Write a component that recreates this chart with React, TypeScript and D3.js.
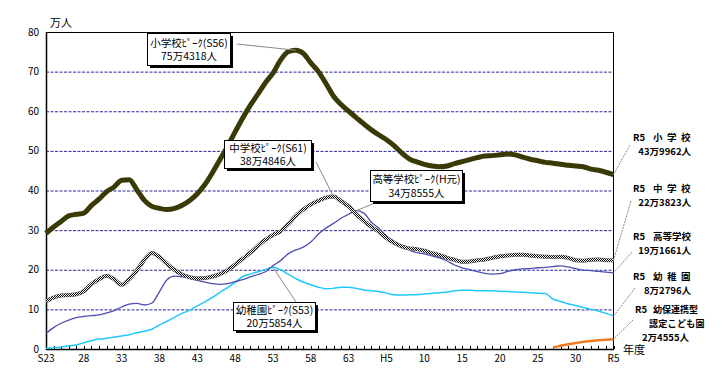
import React from 'react'
import * as d3 from 'd3'

const width = 724
const height = 386
const margin = { top: 32, right: 110, bottom: 37, left: 46 }

// 年度 (S23 = 1948 ... R5 = 2023)
const years = d3.range(1948, 2024)
const tickYears = d3.range(1948, 2024, 5)
const tickLabels = ['S23', '28', '33', '38', '43', '48', '53', '58', '63', 'H5', '10', '15', '20', '25', '30', 'R5']
const yTicks = [0, 10, 20, 30, 40, 50, 60, 70, 80]

// 単位: 万人
const elementary = [
  29.2, 30.8, 32.2, 33.6, 34.0, 34.3, 36.2, 37.8, 39.7, 40.9,
  42.6, 42.7, 40.2, 37.5, 36.0, 35.5, 35.2, 35.5, 36.3, 37.5,
  39.2, 41.5, 44.5, 47.8, 51.2, 54.8, 58.3, 61.5, 64.3, 67.2,
  69.6, 72.9, 75.0, 75.4, 74.6, 72.2, 70.0, 67.0, 63.8, 61.7,
  60.0, 58.4, 56.8, 55.3, 54.0, 52.8, 51.3, 49.5, 48.0, 47.2,
  46.6, 46.2, 46.0, 46.2, 46.8, 47.3, 47.8, 48.3, 48.7, 48.8,
  49.0, 49.2, 49.0, 48.4, 47.9, 47.5, 47.1, 46.9, 46.6, 46.4,
  46.2, 46.0, 45.4, 45.1, 44.6, 44.0
]
const juniorHigh = [
  12.0, 13.0, 13.5, 13.6, 13.8, 14.6, 16.4, 17.6, 18.5, 17.6,
  16.2, 17.6, 19.8, 22.5, 24.2, 23.2, 21.5, 19.9, 18.8, 18.1,
  17.8, 17.9, 18.3, 18.9, 19.9, 21.3, 22.8, 24.3, 26.0, 27.6,
  28.8, 29.7, 31.5, 33.6, 35.2, 36.5, 37.4, 38.2, 38.5, 37.3,
  36.0, 34.0, 32.3, 30.8, 29.6, 28.0, 26.8, 25.9, 25.4, 25.2,
  24.8, 24.2, 23.7, 23.0, 22.5, 22.0, 22.1, 22.4, 22.6, 23.0,
  23.4, 23.6, 23.8, 23.8, 23.6, 23.4, 23.3, 23.2, 23.3, 23.0,
  22.4, 22.3, 22.5, 22.6, 22.4, 22.4
]
const highSchool = [
  3.9, 5.4, 6.5, 7.3, 7.9, 8.2, 8.4, 8.6, 9.1, 9.7,
  10.6, 11.3, 11.5, 11.1, 11.6, 14.5, 17.5, 18.4, 18.2, 17.8,
  17.3, 16.9, 16.5, 16.3, 16.5, 17.0, 17.5, 18.2, 18.8, 19.5,
  21.0, 22.3, 24.0, 25.0, 25.7, 27.0, 29.0, 30.5, 31.7, 33.0,
  34.0, 34.9, 34.3, 32.0, 30.5, 28.5, 27.2, 26.0, 25.0, 24.3,
  24.0, 23.5, 23.0, 22.2, 21.2, 20.5, 20.0, 19.5, 19.1, 18.9,
  19.0, 19.6, 20.0, 20.2, 20.3, 20.5, 20.6, 20.8, 21.0, 20.7,
  20.3, 19.9, 19.8, 19.6, 19.4, 19.2
]
const kindergarten = [
  0.2, 0.3, 0.5, 0.8, 1.0, 1.6, 2.1, 2.5, 2.7, 3.0,
  3.3, 3.6, 4.1, 4.5, 5.0, 6.1, 7.0, 8.0, 9.0, 9.8,
  10.9, 11.9, 13.0, 14.3, 15.5, 16.8, 18.3, 18.9, 19.5, 20.1,
  20.6, 20.0, 18.9, 17.8, 16.9, 16.2, 15.6, 15.2, 15.3, 15.6,
  15.6, 15.3, 14.9, 14.7, 14.5, 14.1, 13.7, 13.6, 13.7, 13.7,
  13.9, 14.1, 14.2, 14.4, 14.7, 14.8, 14.8, 14.7, 14.7, 14.7,
  14.6, 14.5, 14.4, 14.3, 14.2, 14.1, 14.0, 12.6, 12.0, 11.4,
  11.0, 10.5, 10.0, 9.6, 9.0, 8.3
]
const kodomoenYears = d3.range(2015, 2024)
const kodomoen = [0.4, 0.8, 1.2, 1.5, 1.8, 2.0, 2.2, 2.35, 2.46]

const x = d3.scaleLinear().domain([1948, 2023]).range([margin.left, width - margin.right - 0.5])
const y = d3.scaleLinear().domain([0, 80]).range([height - margin.bottom, margin.top])

const line = d3.line<[number, number]>()
  .x(d => x(d[0]))
  .y(d => y(d[1]))
  .curve(d3.curveMonotoneX)

const pts = (xs: number[], vs: number[]) => xs.map((yr, i) => [yr, vs[i]] as [number, number])

const font = "'Noto Sans CJK JP', 'Noto Sans', sans-serif"

// 吹き出し
const callouts = [
  { x: 147, y: 33, w: 83, h: 32, l1: '小学校ﾋﾟｰｸ(S56)', l2: '75万4318人', from: [237, 44], year: 1981, vals: elementary },
  { x: 224, y: 140, w: 87, h: 28, l1: '中学校ﾋﾟｰｸ(S61)', l2: '38万4846人', from: [316, 162], year: 1986, vals: juniorHigh },
  { x: 370, y: 170, w: 92, h: 31, l1: '高等学校ﾋﾟｰｸ(H元)', l2: '34万8555人', from: [380, 201], year: 1989, vals: highSchool },
  { x: 233, y: 302, w: 82, h: 28, l1: '幼稚園ﾋﾟｰｸ(S53)', l2: '20万5854人', from: [296, 302], year: 1978, vals: kindergarten },
]

// 右側のラベル
const rightLabels = [
  { name: '小学校', sp: 4.5, num: '43万9962人', y1: 137, y2: 151, from: [630, 145], last: elementary },
  { name: '中学校', sp: 4.5, num: '22万3823人', y1: 188.5, y2: 202.5, from: [631, 201], last: juniorHigh },
  { name: '高等学校', sp: 0, num: '19万1661人', y1: 236, y2: 250, from: [632, 252], last: highSchool },
  { name: '幼稚園', sp: 4.5, num: '8万2796人', y1: 276, y2: 290, from: [635, 288], last: kindergarten },
]

export default function App() {
  const x0 = margin.left
  const x1 = width - margin.right
  const y0 = height - margin.bottom
  const y1 = margin.top

  return (
    <svg width={width} height={height} style={{ position: 'absolute', left: 0, top: 0, background: '#fff' }}
      fontFamily={font}>
      <defs>
        <pattern id="chk" width="2" height="2" patternUnits="userSpaceOnUse">
          <rect width="2" height="2" fill="#fff" />
          <rect width="1" height="1" fill="#000" />
          <rect x="1" y="1" width="1" height="1" fill="#000" />
        </pattern>
      </defs>

      {/* grid */}
      {yTicks.filter(t => t > 0 && t < 80).map(t =>
        <line key={t} x1={x0} x2={x1} y1={y(t) + 0.5} y2={y(t) + 0.5} stroke="#2626a0" strokeDasharray="3,1.5" />
      )}

      {/* frame */}
      <line x1={x0} x2={x1} y1={y1 + 0.5} y2={y1 + 0.5} stroke="#000" />
      <line x1={x1 - 0.5} x2={x1 - 0.5} y1={y1} y2={y0} stroke="#000" />
      <line x1={x0 + 0.5} x2={x0 + 0.5} y1={y1} y2={y0 + 1} stroke="#000" strokeWidth={1.5} />
      <line x1={x0} x2={x1} y1={y0 + 0.5} y2={y0 + 0.5} stroke="#000" strokeWidth={1.5} />

      {years.map(yr =>
        <line key={yr} x1={Math.round(x(yr)) + 0.5} x2={Math.round(x(yr)) + 0.5} y1={y0} y2={y0 - 3} stroke="#000" />
      )}

      {/* axis labels */}
      {yTicks.map(t =>
        <text key={t} x={39} y={y(t) + 3.5} fontSize={10} textAnchor="end">{t}</text>
      )}
      {tickYears.map((yr, i) =>
        <text key={yr} x={x(yr)} y={362} fontSize={10} textAnchor="middle">{tickLabels[i]}</text>
      )}
      <text x={50} y={27} fontSize={11}>万人</text>
      <text x={623} y={354} fontSize={11}>年度</text>

      {/* series */}
      <path d={line(pts(years, kindergarten)) || ''} fill="none" stroke="#22c8fa" strokeWidth={1.5} />
      <path d={line(pts(years, highSchool)) || ''} fill="none" stroke="#4e4eb4" strokeWidth={1.3} />
      <path d={line(pts(years, juniorHigh)) || ''} fill="none" stroke="#666" strokeWidth={4} />
      <path d={line(pts(years, juniorHigh)) || ''} fill="none" stroke="url(#chk)" strokeWidth={3} />
      <path d={line(pts(years, elementary)) || ''} fill="none" stroke="#3a3a06" strokeWidth={5} />
      <path d={line(pts(kodomoenYears, kodomoen)) || ''} fill="none" stroke="#f07a20" strokeWidth={2.5} />

      {/* callouts */}
      {callouts.map((c, i) => {
        const k = c.year - 1948
        return (
          <g key={i}>
            <line x1={c.from[0]} y1={c.from[1]} x2={x(c.year)} y2={y(c.vals[k])} stroke="#8a8a8a" />
            <rect x={c.x + 3} y={c.y + 3} width={c.w} height={c.h} fill="#000" />
            <rect x={c.x + 0.5} y={c.y + 0.5} width={c.w} height={c.h} fill="#fff" stroke="#000" />
            <text x={c.x + c.w / 2 + 0.5} y={c.y + c.h / 2 - 2.5} fontSize={10.5} textAnchor="middle">{c.l1}</text>
            <text x={c.x + c.w / 2 + 0.5} y={c.y + c.h / 2 + 11} fontSize={10.5} textAnchor="middle">{c.l2}</text>
          </g>
        )
      })}

      {/* right labels */}
      {rightLabels.map((r, i) => (
        <g key={i} fontWeight="bold" fontSize={9.5}>
          <line x1={r.from[0]} y1={r.from[1]} x2={x(2023)} y2={y(r.last[r.last.length - 1])} stroke="#8a8a8a" strokeDasharray="2,1" />
          <text x={633} y={r.y1 + 3.5}>R5</text>
          <text x={653} y={r.y1 + 3.5} letterSpacing={r.sp}>{r.name}</text>
          <text x={691} y={r.y2 + 3.5} textAnchor="end">{r.num}</text>
        </g>
      ))}
      <g fontWeight="bold" fontSize={9}>
        <line x1={633} y1={320} x2={x(2023)} y2={y(kodomoen[kodomoen.length - 1])} stroke="#8a8a8a" strokeDasharray="2,1" />
        <text x={635} y={313} fontSize={9.5}>R5</text>
        <text x={653} y={313}>幼保連携型</text>
        <text x={649} y={326.5} letterSpacing={0.3}>認定こども園</text>
        <text x={689} y={340.5} textAnchor="end" fontSize={9.5}>2万4555人</text>
      </g>
    </svg>
  )
}
